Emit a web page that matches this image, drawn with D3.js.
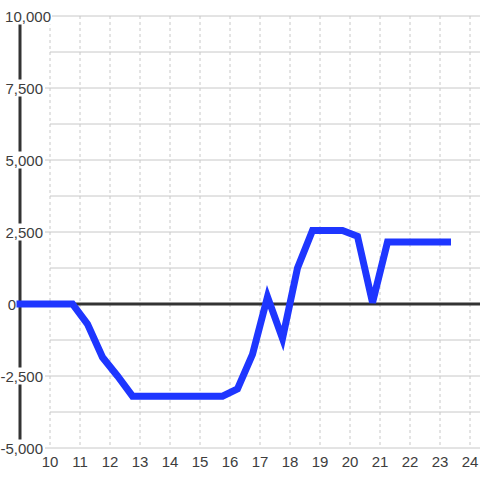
<!DOCTYPE html>
<html lang="en">
  <head>
    <meta charset="UTF-8" />
    <title>Line chart</title>
    <style>
      body {
        margin: 0;
        background: #fff;
      }
      svg {
        display: block;
        font-family: "Liberation Sans", Arial, sans-serif;
      }
      .label {
        font-size: 15px;
        fill: #3d3d3d;
      }
    </style>
  </head>
  <body>
    <svg id="chart"></svg>

    <script src="https://d3js.org/d3.v7.min.js"></script>
    <script>
      const width = 480;
      const height = 480;

      // data
      const hours = [9, 10.75, 11.25, 11.75, 12.25, 12.75, 15.75, 16.25, 16.75,
        17.25, 17.75, 18.25, 18.75, 19.75, 20.25, 20.75, 21.25, 23.25];
      const values = [0, 0, -700, -1850, -2500, -3200, -3200, -2950, -1750,
        250, -1200, 1250, 2550, 2550, 2350, 50, 2150, 2150];

      const xTicks = [10, 11, 12, 13, 14, 15, 16, 17, 18, 19, 20, 21, 22, 23, 24];
      const yTicks = [-5000, -2500, 0, 2500, 5000, 7500, 10000];
      const yGrid = d3.range(-5000, 10001, 1250);

      const svg = d3
        .select("#chart")
        .attr("width", width)
        .attr("height", height);

      const x = d3.scaleLinear().domain([9, 24 + 1 / 3]).range([20, 480]);
      const y = d3.scaleLinear().domain([-5000, 10000]).range([448, 16]);

      // horizontal grid
      svg
        .append("g")
        .selectAll("line")
        .data(yGrid.filter((d) => d !== 0))
        .join("line")
        .attr("x1", (d) => (d % 2500 === 0 ? 45 : 50))
        .attr("x2", width)
        .attr("y1", (d) => y(d))
        .attr("y2", (d) => y(d))
        .attr("stroke", "#c8c8c8")
        .attr("stroke-width", 1);

      // vertical dashed grid
      svg
        .append("g")
        .selectAll("line")
        .data(xTicks)
        .join("line")
        .attr("x1", (d) => x(d))
        .attr("x2", (d) => x(d))
        .attr("y1", y(10000))
        .attr("y2", y(-5000))
        .attr("stroke", "#c8c8c8")
        .attr("stroke-width", 1)
        .attr("stroke-dasharray", "3,3");

      // axis line and zero line
      svg
        .append("line")
        .attr("x1", x(9))
        .attr("x2", x(9))
        .attr("y1", y(10000))
        .attr("y2", y(-5000) - 3)
        .attr("stroke", "#333")
        .attr("stroke-width", 3);

      svg
        .append("line")
        .attr("x1", x(9))
        .attr("x2", width)
        .attr("y1", y(0))
        .attr("y2", y(0))
        .attr("stroke", "#333")
        .attr("stroke-width", 3);

      // y labels with white backing (plain hyphen for the minus sign)
      const fmt = (v) => d3.format(",")(v).replace("\u2212", "-");
      const labelRight = (v) => (v === 10000 ? 51 : v === 0 ? 16 : 43);

      const yLab = svg.append("g").selectAll("g").data(yTicks).join("g");
      yLab
        .append("text")
        .attr("class", "label")
        .attr("text-anchor", "end")
        .attr("x", (d) => labelRight(d))
        .attr("y", (d) => y(d) + 5.5)
        .text((d) => fmt(d));
      yLab.each(function () {
        const g = d3.select(this);
        const b = g.select("text").node().getBBox();
        g.insert("rect", "text")
          .attr("x", b.x - 1)
          .attr("y", b.y)
          .attr("width", b.width + 2)
          .attr("height", b.height)
          .attr("fill", "#fff");
      });

      // x labels
      svg
        .append("g")
        .selectAll("text")
        .data(xTicks)
        .join("text")
        .attr("class", "label")
        .attr("text-anchor", "middle")
        .attr("x", (d) => x(d))
        .attr("y", 467)
        .text((d) => d);

      // series
      const line = d3
        .line()
        .x((d, i) => x(hours[i]))
        .y((d) => y(d));

      svg
        .append("path")
        .datum(values)
        .attr("d", line)
        .attr("fill", "none")
        .attr("stroke", "#1e36ff")
        .attr("stroke-width", 7)
        .attr("stroke-linecap", "square");
    </script>
  </body>
</html>
